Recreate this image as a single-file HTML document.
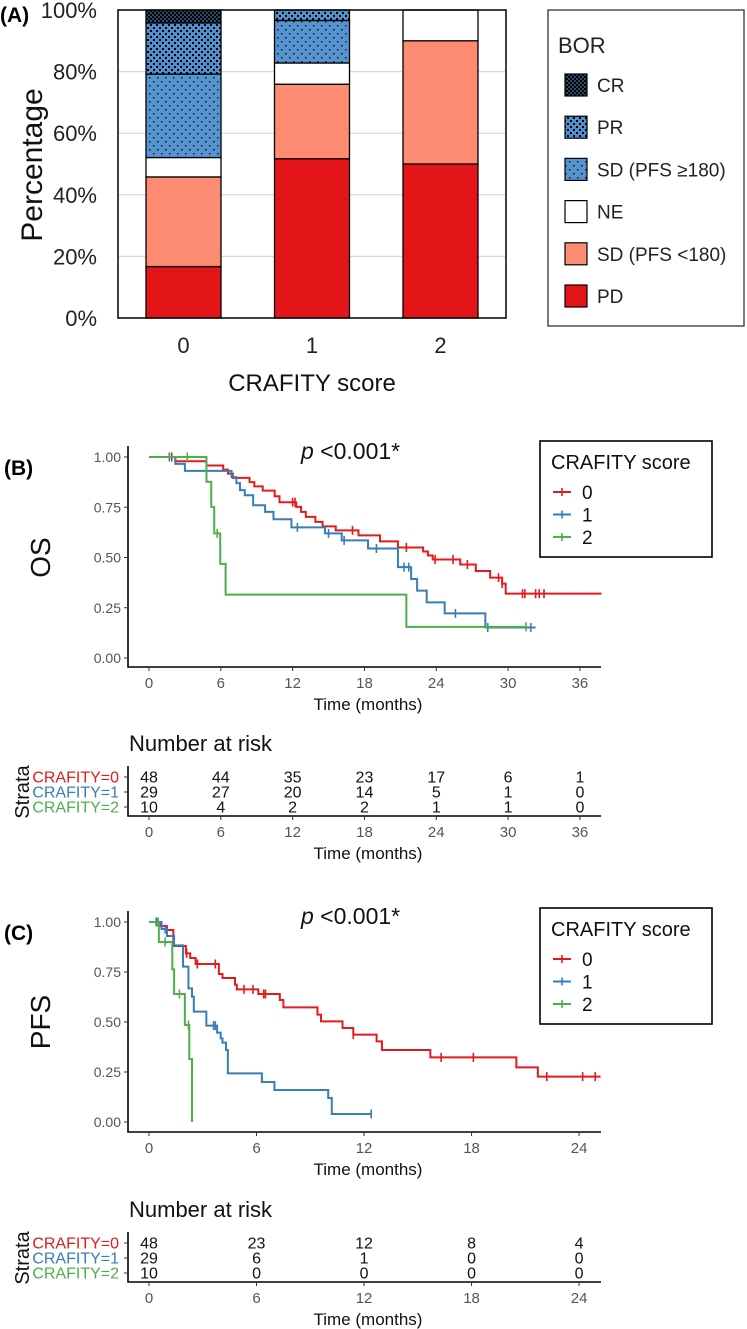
<!DOCTYPE html>
<html><head><meta charset="utf-8"><style>
html,body{margin:0;padding:0;background:#fff;}
svg{display:block;font-family:"Liberation Sans",Arial,sans-serif;}
</style></head><body>
<svg id="fig" width="747" height="1329" viewBox="0 0 747 1329" xmlns="http://www.w3.org/2000/svg">
<defs>
<pattern id="pCR" width="4" height="4" patternUnits="userSpaceOnUse"><rect width="4" height="4" fill="#2b4a6b"/><rect x="0" y="0" width="2" height="2" fill="#000"/><rect x="2" y="2" width="2" height="2" fill="#000"/></pattern>
<pattern id="pPR" width="6" height="6" patternUnits="userSpaceOnUse"><rect width="6" height="6" fill="#4f8fcb"/><rect x="0" y="0" width="2" height="2" fill="#000"/><rect x="3" y="3" width="2" height="2" fill="#000"/></pattern>
<pattern id="pSD" width="8" height="8" patternUnits="userSpaceOnUse"><rect width="8" height="8" fill="#5596d2"/><rect x="1" y="1" width="1.5" height="1.5" fill="#111"/><rect x="5" y="5" width="1.5" height="1.5" fill="#111"/></pattern>
</defs>
<g id="panelA"></g>
<g id="panelB"></g>
<g id="panelC"></g>
</svg>
<script>
// ---------- Panel A data ----------
const barCategories = ["0","1","2"];
const pdPct   = [16.7, 51.7, 50.0];
const sdLtPct = [29.1, 24.2, 40.0];
const nePct   = [6.3, 6.9, 10.0];
const sdGePct = [27.1, 13.8, 0];
const prPct   = [16.6, 3.4, 0];
const crPct   = [4.2, 0, 0];
const pctTicks = ["0%","20%","40%","60%","80%","100%"];
const borLabels = ["CR","PR","SD (PFS \u2265180)","NE","SD (PFS <180)","PD"];

// ---------- Panel B (OS) data ----------
const osRedT = [2.2,4.8,6.2,6.6,7.0,8.4,8.8,9.5,10.5,10.9,12.3,12.7,13.1,13.9,14.5,15.6,17.5,19.3,20.8,22.9,23.3,23.7,26.0,27.3,28.5,29.5,29.8];
const osRedS = [0.979,0.958,0.937,0.917,0.896,0.875,0.854,0.833,0.805,0.775,0.752,0.727,0.702,0.677,0.655,0.635,0.61,0.58,0.55,0.53,0.51,0.49,0.465,0.433,0.40,0.37,0.32];
const osRedCens = [1.9,12.0,12.2,17.0,21.5,23.9,25.4,26.6,29.2,29.5,31.2,31.4,32.3,32.6,33.0];
const osRedEnd = 37.8;
const osBlueT = [2.2,3.0,6.9,7.3,7.6,8.0,8.7,9.7,10.4,11.9,14.7,16.1,18.3,20.8,21.9,22.4,23.2,24.7,28.1];
const osBlueS = [0.966,0.931,0.90,0.87,0.835,0.81,0.76,0.727,0.69,0.65,0.62,0.585,0.545,0.452,0.393,0.335,0.277,0.222,0.152];
const osBlueCens = [1.7,12.4,15.0,16.3,19.0,21.3,21.7,25.6,28.3,31.9];
const osBlueEnd = 32.3;
const osGreenT = [4.8,5.2,5.45,5.95,6.4,21.5];
const osGreenS = [0.877,0.752,0.62,0.468,0.315,0.155];
const osGreenCens = [3.2,5.7,31.5];
const osGreenEnd = 31.5;
const osTicks = [0,6,12,18,24,30,36];
const osRisk0 = [48,44,35,23,17,6,1];
const osRisk1 = [29,27,20,14,5,1,0];
const osRisk2 = [10,4,2,2,1,1,0];

// ---------- Panel C (PFS) data ----------
const pfsRedT = [0.6,1.0,1.36,2.06,2.3,2.6,3.9,4.1,4.8,4.9,6.1,7.3,7.5,9.4,9.6,10.8,11.4,12.7,13.0,15.7,20.5,21.7];
const pfsRedS = [0.98,0.96,0.88,0.843,0.82,0.79,0.74,0.72,0.687,0.663,0.64,0.61,0.573,0.537,0.503,0.47,0.437,0.403,0.36,0.323,0.273,0.227];
const pfsRedCens = [0.5,2.1,2.7,3.7,5.3,5.8,6.4,6.5,11.4,16.3,18.1,22.2,24.2,24.9];
const pfsRedEnd = 25.2;
const pfsBlueT = [0.7,1.0,1.4,1.9,2.2,2.4,2.5,3.2,3.8,4.0,4.1,4.3,4.4,6.3,7.0,10.0,10.2];
const pfsBlueS = [0.965,0.93,0.883,0.777,0.668,0.627,0.552,0.482,0.447,0.418,0.397,0.36,0.243,0.20,0.16,0.12,0.04];
const pfsBlueCens = [0.4,0.9,3.6,3.7,12.4];
const pfsBlueEnd = 12.4;
const pfsGreenT = [0.55,1.3,1.4,2.0,2.25,2.4];
const pfsGreenS = [0.9,0.763,0.64,0.485,0.315,0];
const pfsGreenCens = [0.5,0.9,1.7,2.2];
const pfsGreenEnd = 2.4;
const pfsTicks = [0,6,12,18,24];
const pfsRisk0 = [48,23,12,8,4];
const pfsRisk1 = [29,6,1,0,0];
const pfsRisk2 = [10,0,0,0,0];

const survTicks = ["0.00","0.25","0.50","0.75","1.00"];
const NS = "http://www.w3.org/2000/svg";
const RED="#e41a1c", BLUE="#377eb8", GREEN="#4daf4a";

function mk(parent, tag, attrs, txt){
  const e = document.createElementNS(NS, tag);
  for (const k in attrs) e.setAttribute(k, attrs[k]);
  if (txt !== undefined) e.textContent = txt;
  parent.appendChild(e);
  return e;
}

// ================= PANEL A =================
(function(){
  const g = document.getElementById('panelA');
  const x0=118, x1=506, yTop=10, yBot=318;
  const ya = p => yBot - (yBot-yTop)*p/100;
  const bx = i => 146 + i*128.5;
  const bw = 75;
  [20,40,60,80].forEach(v=>{
    const l = mk(g,'line',{x1:x0,x2:x1,y1:ya(v),y2:ya(v),stroke:'#d9d9d9','stroke-width':1.2});
    
    
  });
  pctTicks.forEach((t,i)=>{
    const tx = mk(g,'text',{x:97,y:ya(i*20)+8,'text-anchor':'end','font-size':22,fill:'#222'},t);
    
    
  });
  const segs = [
    {v:pdPct, fill:'#e31519'},
    {v:sdLtPct, fill:'#fc8b72'},
    {v:nePct, fill:'#ffffff'},
    {v:sdGePct, fill:'url(#pSD)'},
    {v:prPct, fill:'url(#pPR)'},
    {v:crPct, fill:'url(#pCR)'}
  ];
  const segNames = ['pd','sd-lt180','ne','sd-ge180','pr','cr'];
  barCategories.forEach((c,i)=>{
    let cum=0;
    segs.forEach((s,k)=>{
      const v=s.v[i];
      if(v<=0) return;
      const r = mk(g,'rect',{x:bx(i),y:ya(cum+v),width:bw,height:ya(cum)-ya(cum+v),fill:s.fill,stroke:'#000','stroke-width':1.3});
      
      
      cum+=v;
    });
    const lb = mk(g,'text',{x:bx(i)+bw/2,y:353,'text-anchor':'middle','font-size':22,fill:'#222'},c);
    
    
  });
  const box = mk(g,'rect',{x:x0,y:yTop,width:x1-x0,height:yBot-yTop,fill:'none',stroke:'#000','stroke-width':1.5});
  
  
  const lg = mk(g,'rect',{x:548,y:10,width:196,height:316,fill:'#fff',stroke:'#333','stroke-width':1.3});
  
  
  const lt = mk(g,'text',{x:558,y:53,'font-size':22,fill:'#222'},'BOR');
  
  
  const legFills = ['url(#pCR)','url(#pPR)','url(#pSD)','#ffffff','#fc8b72','#e31519'];
  borLabels.forEach((l,i)=>{
    const cy = 85 + i*42.2;
    const r = mk(g,'rect',{x:565,y:cy-11,width:22,height:22,fill:legFills[i],stroke:'#000','stroke-width':1.2});
    
    
    const t = mk(g,'text',{x:597,y:cy+7,'font-size':19,fill:'#222'},l);
    
    
  });
})();

// ================= KM helper =================
function drawKM(gid, cfg){
  const g = document.getElementById(gid);
  const X = t => cfg.x0 + t*cfg.pxPerMonth;
  const Y = s => cfg.yZero - s*(cfg.yZero-cfg.yOne);
  const ax = mk(g,'path',{d:`M${cfg.axisLeft},${cfg.yTopAxis} V${cfg.xAxisY} H${cfg.axisRight}`,fill:'none',stroke:'#000','stroke-width':1.6});
  
  
  survTicks.forEach((t,i)=>{
    const yy = Y(i*0.25);
    const tk = mk(g,'line',{x1:cfg.axisLeft-4,x2:cfg.axisLeft,y1:yy,y2:yy,stroke:'#333','stroke-width':1});
    
    
    const tl = mk(g,'text',{x:cfg.axisLeft-7,y:yy+5,'text-anchor':'end','font-size':14,fill:'#555'},t);
    
    
  });
  cfg.ticks.forEach(t=>{
    const tk = mk(g,'line',{x1:X(t),x2:X(t),y1:cfg.xAxisY,y2:cfg.xAxisY+4,stroke:'#333','stroke-width':1});
    
    
    const tl = mk(g,'text',{x:X(t),y:cfg.xAxisY+21,'text-anchor':'middle','font-size':15,fill:'#555'},String(t));
    
    
  });
  const xt = mk(g,'text',{x:368,y:cfg.xAxisY+43,'text-anchor':'middle','font-size':17,fill:'#111'},'Time (months)');
  
  
  const yt = mk(g,'text',{x:0,y:0,'text-anchor':'middle','font-size':28,fill:'#111',transform:`translate(50,${(cfg.yOne+cfg.yZero)/2}) rotate(-90)`},cfg.ylab);
  
  
  const pl = mk(g,'text',{x:301,y:cfg.yOne+2,'font-size':23,fill:'#111'});
  
  
  mk(pl,'tspan',{'font-style':'italic'},'p');
  mk(pl,'tspan',{},' <0.001*');
  const pn = mk(g,'text',{x:4,y:cfg.yOne+18,'font-size':21,'font-weight':'bold',fill:'#000'},cfg.panel);
  
  

  function stepS(T,S,t){let s=1;for(let i=0;i<T.length;i++){if(T[i]<=t)s=S[i];}return s;}
  cfg.curves.forEach(c=>{
    let d = `M${X(0)},${Y(1)}`;
    c.T.forEach((t,i)=>{ d += ` H${X(t)} V${Y(c.S[i])}`; });
    d += ` H${X(c.end)}`;
    const p = mk(g,'path',{d:d,fill:'none',stroke:c.color,'stroke-width':2});
    
    
    c.cens.forEach(t=>{
      const yy = Y(stepS(c.T,c.S,t));
      const m = mk(g,'line',{x1:X(t),x2:X(t),y1:yy-4.5,y2:yy+4.5,stroke:c.color,'stroke-width':1.6});
      
      
    });
  });
  const L = cfg.legY;
  const lb = mk(g,'rect',{x:540,y:L,width:172,height:116,fill:'#fff',stroke:'#000','stroke-width':1.6});
  
  
  const lt = mk(g,'text',{x:551,y:L+28,'font-size':20,fill:'#111'},'CRAFITY score');
  
  
  [['0',RED],['1',BLUE],['2',GREEN]].forEach((e,i)=>{
    const cy = L+51+i*22.5;
    const ln = mk(g,'line',{x1:553,x2:571,y1:cy,y2:cy,stroke:e[1],'stroke-width':2});
    
    
    const ct = mk(g,'line',{x1:562,x2:562,y1:cy-4,y2:cy+4,stroke:e[1],'stroke-width':1.6});
    
    
    const tx = mk(g,'text',{x:582,y:cy+7,'font-size':19,fill:'#111'},e[0]);
    
    
  });
  // risk table (R = baseline of "Number at risk")
  const R = cfg.riskTop;
  const nr = mk(g,'text',{x:129,y:R,'font-size':22,fill:'#111'},'Number at risk');
  
  
  const rowsY = [R+26,R+41,R+56];
  const tAxisY = R+65;
  const ra = mk(g,'path',{d:`M${cfg.axisLeft},${R+15} V${tAxisY} H${cfg.axisRight}`,fill:'none',stroke:'#000','stroke-width':1.6});
  
  
  const strata = ['CRAFITY=0','CRAFITY=1','CRAFITY=2'];
  const cols = [RED,BLUE,GREEN];
  [cfg.risk0,cfg.risk1,cfg.risk2].forEach((row,ri)=>{
    const sl = mk(g,'text',{x:119,y:rowsY[ri]+5.5,'text-anchor':'end','font-size':16,fill:cols[ri]},strata[ri]);
    
    
    const tk = mk(g,'line',{x1:cfg.axisLeft-4,x2:cfg.axisLeft,y1:rowsY[ri],y2:rowsY[ri],stroke:'#333','stroke-width':1});
    
    
    row.forEach((v,ci)=>{
      const c = mk(g,'text',{x:X(cfg.ticks[ci]),y:rowsY[ri]+5.5,'text-anchor':'middle','font-size':16,fill:'#111'},String(v));
      
      
    });
  });
  const st = mk(g,'text',{x:0,y:0,'text-anchor':'middle','font-size':20,fill:'#111',transform:`translate(29,${rowsY[1]}) rotate(-90)`},'Strata');
  
  
  cfg.ticks.forEach(t=>{
    const tk = mk(g,'line',{x1:X(t),x2:X(t),y1:tAxisY,y2:tAxisY+4,stroke:'#333','stroke-width':1});
    
    
    const tl = mk(g,'text',{x:X(t),y:tAxisY+21,'text-anchor':'middle','font-size':15,fill:'#555'},String(t));
    
    
  });
  const rt = mk(g,'text',{x:368,y:tAxisY+43,'text-anchor':'middle','font-size':17,fill:'#111'},'Time (months)');
  
  
}

drawKM('panelB',{
  panel:'(B)', ylab:'OS', x0:149, pxPerMonth:11.97, yOne:457, yZero:658,
  axisLeft:128, axisRight:601, yTopAxis:446, xAxisY:667, ticks:osTicks, legY:441,
  riskTop:751, risk0:osRisk0, risk1:osRisk1, risk2:osRisk2,
  curves:[
    {name:'score-0',color:RED,T:osRedT,S:osRedS,cens:osRedCens,end:osRedEnd},
    {name:'score-1',color:BLUE,T:osBlueT,S:osBlueS,cens:osBlueCens,end:osBlueEnd},
    {name:'score-2',color:GREEN,T:osGreenT,S:osGreenS,cens:osGreenCens,end:osGreenEnd}
  ]
});
drawKM('panelC',{
  panel:'(C)', ylab:'PFS', x0:149, pxPerMonth:17.92, yOne:922, yZero:1122,
  axisLeft:128, axisRight:601, yTopAxis:911, xAxisY:1132, ticks:pfsTicks, legY:908,
  riskTop:1217, risk0:pfsRisk0, risk1:pfsRisk1, risk2:pfsRisk2,
  curves:[
    {name:'score-0',color:RED,T:pfsRedT,S:pfsRedS,cens:pfsRedCens,end:pfsRedEnd},
    {name:'score-1',color:BLUE,T:pfsBlueT,S:pfsBlueS,cens:pfsBlueCens,end:pfsBlueEnd},
    {name:'score-2',color:GREEN,T:pfsGreenT,S:pfsGreenS,cens:pfsGreenCens,end:pfsGreenEnd}
  ]
});

// Panel A titles
(function(){
  const g=document.getElementById('panelA');
  const a=mk(g,'text',{x:0,y:22,'font-size':21,'font-weight':'bold'},'(A)');
  
  
  const y=mk(g,'text',{transform:'translate(42,165) rotate(-90)','text-anchor':'middle','font-size':30,fill:'#111'},'Percentage');
  
  
  const x=mk(g,'text',{x:312,y:391,'text-anchor':'middle','font-size':24,fill:'#111'},'CRAFITY score');
  
  
})();
</script>
</body></html>
